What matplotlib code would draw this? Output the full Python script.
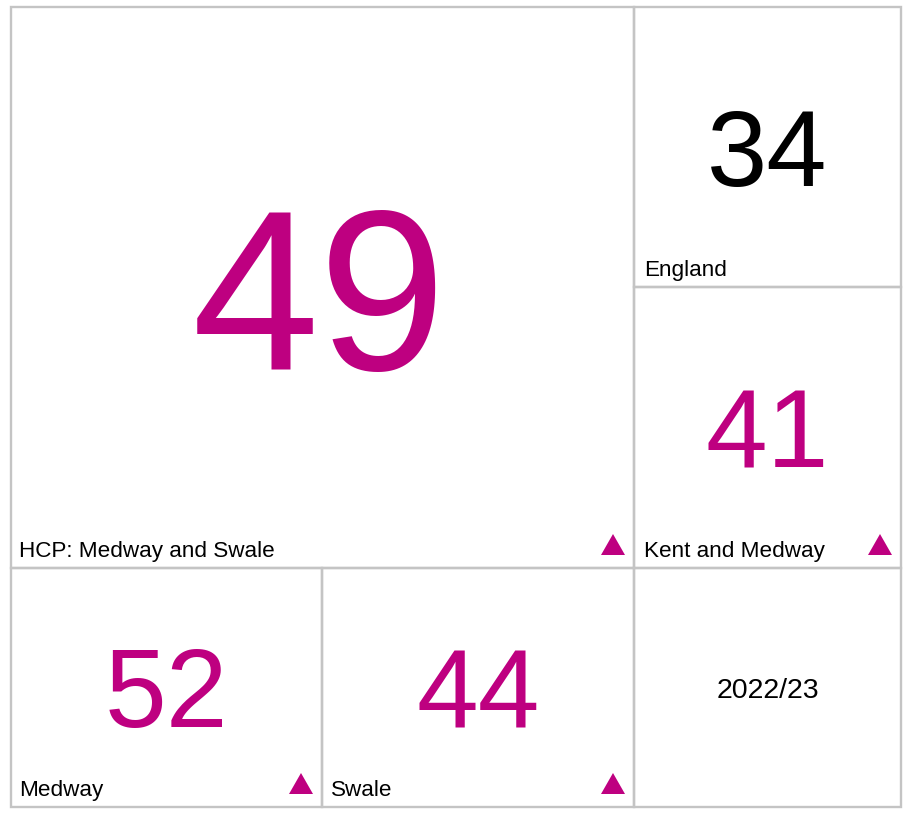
import matplotlib.pyplot as plt
from matplotlib.patches import Rectangle, Polygon

plt.rcParams['font.family'] = ['Liberation Sans', 'DejaVu Sans']

# data
areas = ["HCP: Medway and Swale", "England", "Kent and Medway", "Medway", "Swale"]
values = [49, 34, 41, 52, 44]
trend = ["up", None, "up", "up", "up"]
period = "2022/23"

# tile layout in pixels: x0, y0, x1, y1 (y going down)
tiles = [(11, 7, 634, 568), (634, 7, 901, 287), (634, 287, 901, 568),
         (11, 568, 322, 807), (322, 568, 634, 807)]
date_tile = (634, 568, 901, 807)
num_size = [165, 78, 80, 80, 80]
num_color = ["#BE0080", "black", "#BE0080", "#BE0080", "#BE0080"]
label_dx = [8, 10, 10, 8, 9]

W, H, DPI = 905, 815, 100
fig = plt.figure(figsize=(W / DPI, H / DPI), dpi=DPI)
ax = fig.add_axes([0, 0, 1, 1])
ax.set_xlim(0, W)
ax.set_ylim(H, 0)
ax.axis("off")

edge = "#C4C4C4"
CAP = 0.716  # digit height / em for Arial-like fonts


def draw_tile(t):
    x0, y0, x1, y1 = t
    ax.add_patch(Rectangle((x0, y0), x1 - x0, y1 - y0, fill=False,
                           edgecolor=edge, linewidth=1.7))


for name, val, tr, t, fs, col, dx in zip(areas, values, trend, tiles,
                                         num_size, num_color, label_dx):
    draw_tile(t)
    x0, y0, x1, y1 = t
    cx, cy = (x0 + x1) / 2, (y0 + y1) / 2
    cap_px = CAP * fs * DPI / 72
    ax.text(cx - (3 if fs > 100 else 0), cy + cap_px / 2, str(val),
            ha="center", va="baseline", fontsize=fs, color=col)
    ax.text(x0 + dx, y1 - 11, name, ha="left", va="baseline",
            fontsize=16.2, color="black")
    if tr == "up":
        r, b = x1 - 9, y1 - 13
        ax.add_patch(Polygon([(r - 24, b), (r, b), (r - 12, b - 21)],
                             closed=True, color="#BE0080", lw=0))

draw_tile(date_tile)
x0, y0, x1, y1 = date_tile
ax.text((x0 + x1) / 2, (y0 + y1) / 2 + 11, period,
        ha="center", va="baseline", fontsize=20.5, color="black")

fig.savefig("out.png", dpi=DPI, facecolor="white")
